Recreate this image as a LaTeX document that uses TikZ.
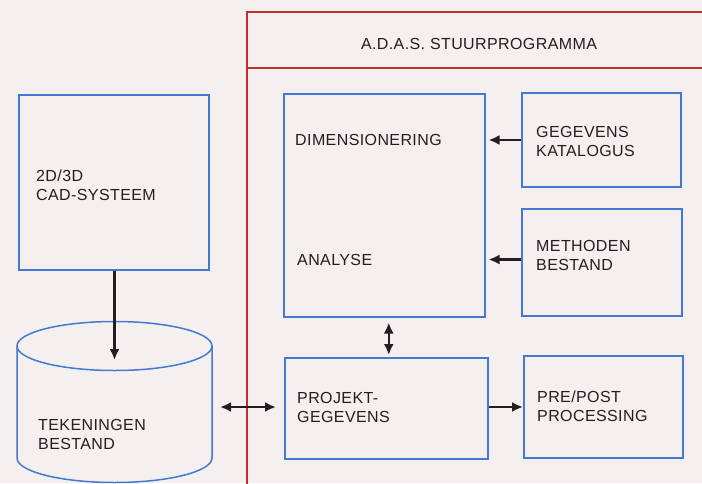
\documentclass[tikz,border=0pt]{standalone}
\usepackage{fontspec}
\setmainfont{Liberation Sans}[LetterSpace=2.5]
\usetikzlibrary{arrows.meta}
\definecolor{bg}{HTML}{F4F0F0}
\definecolor{boxblue}{HTML}{4677D2}
\definecolor{framered}{HTML}{C42E2A}
\definecolor{ink}{HTML}{231F20}
\begin{document}
\begin{tikzpicture}[x=1pt,y=-1pt,
  box/.style={draw=boxblue, line width=1.5pt, rectangle, inner sep=0pt, anchor=north west},
  lbl/.style={text=ink, font=\fontsize{16}{19}\selectfont, align=left, anchor=west, inner sep=0pt},
  conn/.style={draw=ink, line width=2.2pt, -{Latex[length=11pt,width=10pt]}},
  dconn/.style={draw=ink, line width=2.2pt, {Latex[length=11pt,width=10pt]}-{Latex[length=11pt,width=10pt]}},
  frame/.style={draw=framered, line width=1.1pt},
  cyl/.style={draw=boxblue, line width=1.5pt}]
\fill[bg] (0,0) rectangle (702,483);
\useasboundingbox (0,0) rectangle (702,483);

% program frame
\draw[frame] (247,490) -- (247,12) -- (710,12);
\draw[frame] (247,68) -- (710,68);
\node[lbl, anchor=center] (hdrtxt) at (479,44) {A.D.A.S. STUURPROGRAMMA};

% boxes
\node[box, minimum width=190pt, minimum height=175pt] (cad) at (18,94) {};
\node[box, minimum width=201pt, minimum height=223pt] (dim) at (283,93) {};
\node[box, minimum width=159pt, minimum height=94pt] (gk) at (521,92) {};
\node[box, minimum width=160pt, minimum height=107pt] (mb) at (521,208) {};
\node[box, minimum width=203pt, minimum height=101pt] (proj) at (284,357) {};
\node[box, minimum width=159pt, minimum height=102pt] (pp) at (523,355) {};

% cylinder
\draw[cyl] (114.5,346) ellipse[x radius=97.5, y radius=24.5];
\draw[cyl] (17,346) -- (17,458) arc[start angle=180, end angle=0, x radius=97.5, y radius=24.5] -- (212,346);
\coordinate (cyltop) at (114.5,360);
\coordinate (cyleast) at (212,407);

% texts
\node[lbl] (cadtxt) at (36,185.5) {2D/3D\\CAD-SYSTEEM};
\node[lbl] (tektxt) at (38,434.5) {TEKENINGEN\\BESTAND};
\node[lbl] (dimtxt) at (295,140) {DIMENSIONERING};
\node[lbl] (anatxt) at (297,259.5) {ANALYSE};
\node[lbl] (gktxt) at (536,141.5) {GEGEVENS\\KATALOGUS};
\node[lbl] (mbtxt) at (536,255.5) {METHODEN\\BESTAND};
\node[lbl] (ptxt) at (297,407) {PROJEKT-\\GEGEVENS};
\node[lbl] (pptxt) at (537,406) {PRE/POST\\PROCESSING};

% connectors
\draw[conn] (cyltop |- cad.south) -- (cyltop);
\draw[dconn, shorten <=8pt, shorten >=8pt] (cyleast) -- (proj.west |- cyleast);
\draw[conn, shorten >=3pt] (gk.west |- dimtxt) -- (dim.east |- dimtxt);
\draw[conn, shorten >=3pt] (mb.west |- anatxt) -- (dim.east |- anatxt);
\draw[dconn, shorten <=5pt, shorten >=2pt] ([xshift=4.5pt]dim.south) -- ([xshift=4.5pt]dim.south |- proj.north);
\draw[conn] (proj.east |- ptxt) -- (pp.west |- ptxt);
\end{tikzpicture}
\end{document}
